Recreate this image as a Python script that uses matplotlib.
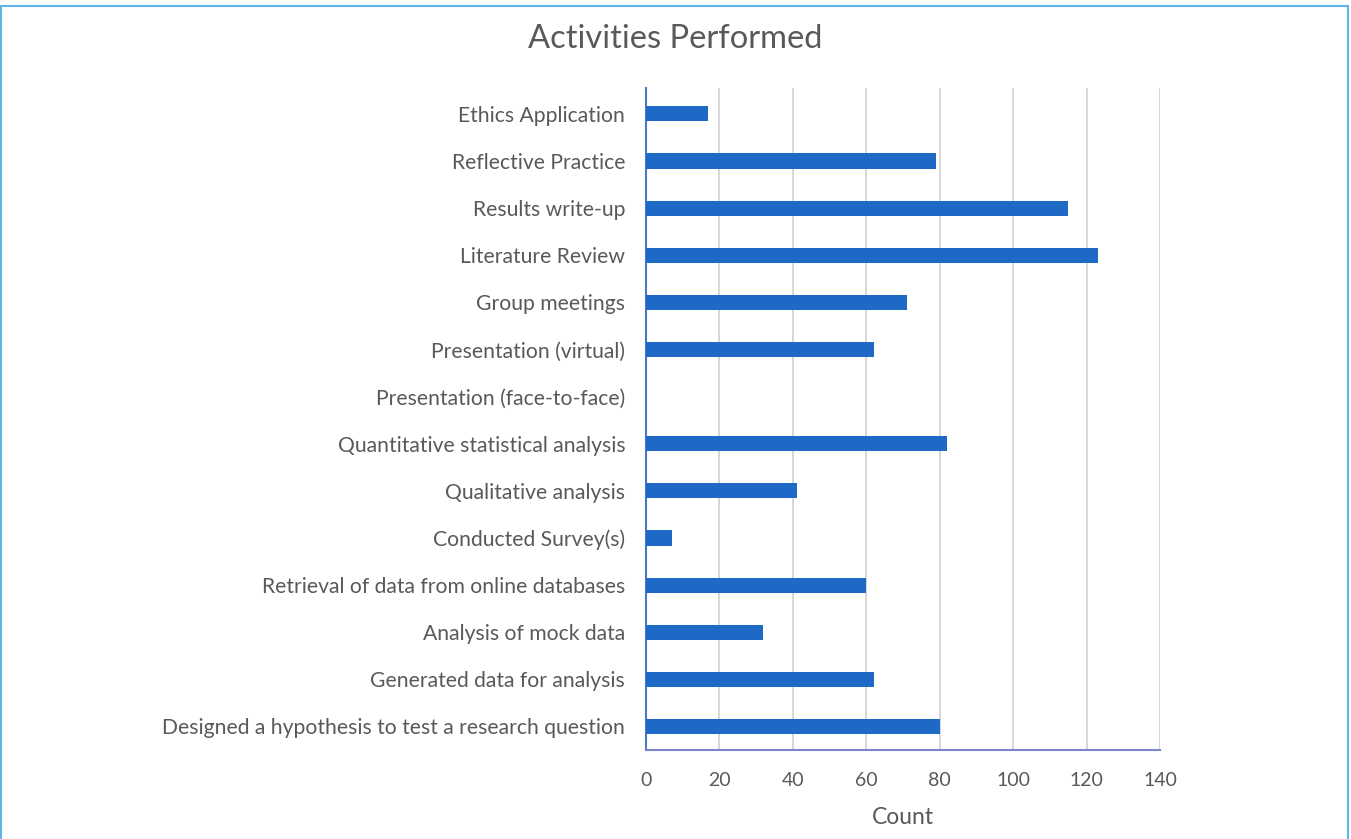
import matplotlib
matplotlib.use("Agg")
import matplotlib.pyplot as plt
from matplotlib.patches import Rectangle

plt.rcParams['font.family'] = ['Lato', 'DejaVu Sans']

# activities listed top to bottom
activities = [
    "Ethics Application",
    "Reflective Practice",
    "Results write-up",
    "Literature Review",
    "Group meetings",
    "Presentation (virtual)",
    "Presentation (face-to-face)",
    "Quantitative statistical analysis",
    "Qualitative analysis",
    "Conducted Survey(s)",
    "Retrieval of data from online databases",
    "Analysis of mock data",
    "Generated data for analysis",
    "Designed a hypothesis to test a research question",
]
counts = [17, 79, 115, 123, 71, 62, 0, 82, 41, 7, 60, 32, 62, 80]
x_ticks = [0, 20, 40, 60, 80, 100, 120, 140]

text_color = "#595959"
bar_color = "#1F69C6"

fig = plt.figure(figsize=(13.51, 8.39), dpi=100)
ax = fig.add_axes([646 / 1351, 1 - 750 / 839, (1160 - 646) / 1351, (750 - 88) / 839])

ypos = list(range(len(activities)))
ax.barh(ypos, counts, height=0.32, color=bar_color, zorder=3)
ax.set_ylim(len(activities) - 0.5, -0.55)
ax.set_xlim(0, 140)
ax.set_yticks(ypos)
ax.set_yticklabels(activities, fontsize=15.2, color=text_color)
ax.set_xticks(x_ticks)
ax.set_xticklabels([str(t) for t in x_ticks], fontsize=14, color=text_color)
ax.tick_params(axis='both', length=0)
ax.tick_params(axis='y', pad=15)
ax.tick_params(axis='x', pad=16)

ax.grid(axis='x', color="#D0D0D0", linewidth=1.2, zorder=0)
for side in ("top", "right"):
    ax.spines[side].set_visible(False)
ax.spines["left"].set_color("#4A78C8")
ax.spines["left"].set_linewidth(1.5)
ax.spines["bottom"].set_color("#7A86D0")
ax.spines["bottom"].set_linewidth(1.5)

ax.set_xlabel("Count", fontsize=16.5, color=text_color, labelpad=13)
fig.text(0.5, 1 - 39 / 839, "Activities Performed", ha='center', va='center',
         fontsize=23.5, color=text_color)

# thin frame round the whole chart
fig.patches.append(Rectangle((0.001, -0.01), 0.997, 1 - 6 / 839 + 0.01,
                             transform=fig.transFigure, fill=False,
                             edgecolor="#5DB5E8", linewidth=1.5))

fig.savefig("out.png", dpi=100)
